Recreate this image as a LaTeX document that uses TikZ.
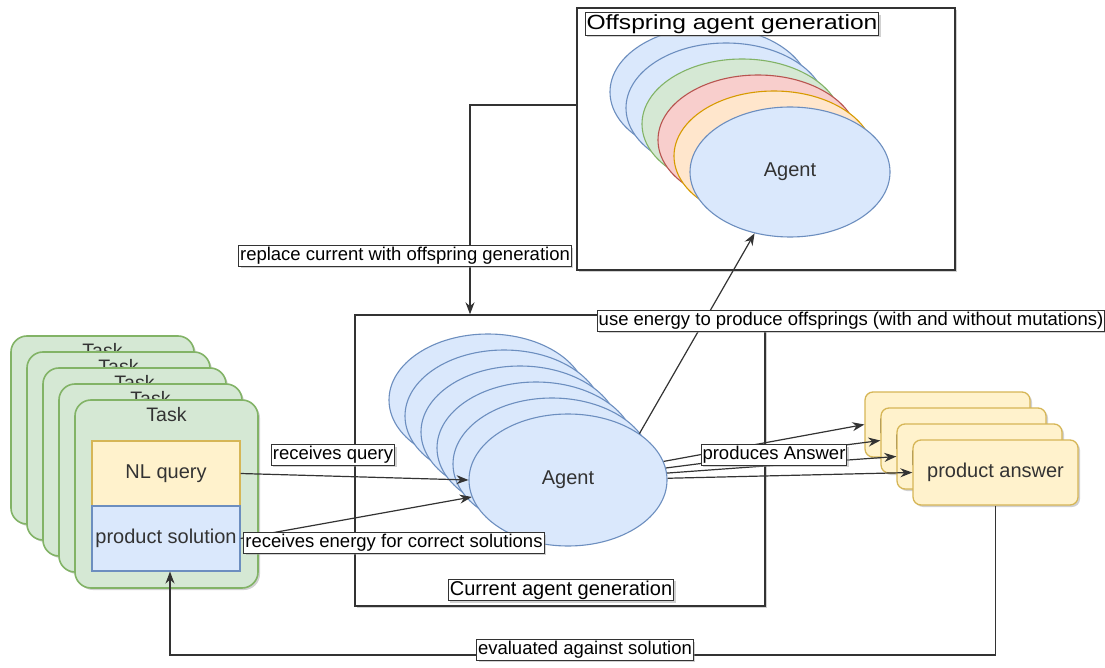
\documentclass[tikz,border=0pt]{standalone}
\usepackage{fontspec}
\setmainfont{Liberation Sans}
\newfontfamily\widesans[FakeStretch=1.2]{Liberation Sans}
\usetikzlibrary{shapes.geometric,arrows.meta,shadows}

\definecolor{blueF}{HTML}{DAE8FC}\definecolor{blueS}{HTML}{6C8EBF}
\definecolor{greenF}{HTML}{D5E8D4}\definecolor{greenS}{HTML}{82B366}
\definecolor{redF}{HTML}{F8CECC}\definecolor{redS}{HTML}{B85450}
\definecolor{orangeF}{HTML}{FFE6CC}\definecolor{orangeS}{HTML}{D79B00}
\definecolor{yellowF}{HTML}{FFF2CC}\definecolor{yellowS}{HTML}{D6B656}
\definecolor{ink}{HTML}{333333}

\tikzset{
  softshadow/.style={drop shadow={shadow xshift=2pt,shadow yshift=-2pt,fill=black!40,opacity=.45}},
  frame/.style={rectangle,draw=ink,line width=1.4pt,fill=white,softshadow},
  tag/.style={rectangle,draw=ink,line width=1pt,fill=white,inner xsep=1.5pt,inner ysep=1.5pt,
    font=\fontsize{18.5}{18.5}\selectfont,softshadow},
  bigtag/.style={tag,font=\fontsize{20}{20}\selectfont},
  agentell/.style={ellipse,line width=1.1pt,minimum width=198,minimum height=132,
    font=\fontsize{20}{20}\selectfont,text=ink},
  card/.style={rectangle,rounded corners=16pt,draw=greenS,fill=greenF,line width=1.6pt,
    minimum width=183,minimum height=188,softshadow},
  cardtitle/.style={font=\fontsize{19.5}{19.5}\selectfont,text=ink},
  field/.style={rectangle,line width=1.1pt,minimum width=148,minimum height=65,
    font=\fontsize{20}{20}\selectfont,text=ink},
  answer/.style={rectangle,rounded corners=8pt,draw=yellowS,fill=yellowF,line width=1.3pt,
    minimum width=165,minimum height=65,font=\fontsize{20}{20}\selectfont,text=ink,softshadow},
  arr/.style={draw=ink,line width=1.2pt,-{Stealth[length=12pt,width=9pt]}},
}

\begin{document}
\begin{tikzpicture}[x=1pt,y=-1pt]
\useasboundingbox[fill=white] (0,0) rectangle (1105,668);

% generation frames
\node[frame,minimum width=378,minimum height=262] (offbox) at (766,139) {};
\node[frame,minimum width=410,minimum height=291] (curbox) at (560,460.5) {};

% offspring agents, back to front
\foreach \i/\f/\s in {5/blueF/blueS,4/blueF/blueS,3/greenF/greenS,2/redF/redS,1/orangeF/orangeS}
  \node[agentell,fill=\f,draw=\s,minimum width=200,minimum height=130]
    (off\i) at (790-16*\i,172-16*\i) {};
\node[agentell,fill=blueF,draw=blueS,minimum width=200,minimum height=130] (agentoff) at (790,172) {Agent};

% current agents, back to front
\foreach \i in {5,...,1}
  \node[agentell,fill=blueF,draw=blueS] (cur\i) at (568-16*\i,480-16*\i) {};
\node[agentell,fill=blueF,draw=blueS] (agentcur) at (568,480) {Agent};

% task cards, back to front
\foreach \i in {4,...,1}{
  \node[card] (task\i) at (166.5-16*\i,494-16*\i) {};
  \node[cardtitle] (tasktitle\i) at (166.5-16*\i,415-16*\i) {Task};
}
\node[card] (task0) at (166.5,494) {};
\node[cardtitle] (tasktitle0) at (166.5,415) {Task};
\node[field,fill=yellowF,draw=yellowS] (nl) at (166,473.5) {NL query};
\node[field,fill=blueF,draw=blueS] (sol) at (166,538.5) {product solution};

% answers, back to front
\foreach \i in {3,...,1}
  \node[answer] (ans\i) at (995.5-16*\i,472.5-16*\i) {product answer};
\node[answer] (ans0) at (995.5,472.5) {product answer};

% connectors
\coordinate (r1) at (470,105);
\coordinate (e1) at (0,655);
\draw[arr] (offbox.west |- r1) -| (r1 |- curbox.north);
\draw[arr] (agentcur.33) -- (agentoff.240);
\draw[arr] (nl.east) -- (agentcur.west);
\draw[arr] (sol.east) -- (agentcur.190);
\draw[arr] (agentcur.11) -- (ans3.west);
\draw[arr] (agentcur.7) -- (ans2.west);
\draw[arr] (agentcur.4) -- (ans1.west);
\draw[arr] (agentcur.1) -- (ans0.west);
\draw[arr] (ans0.south) |- ([xshift=4pt]sol.south |- e1) -- ([xshift=4pt]sol.south);

% labels
\node[tag,font=\widesans\fontsize{20.5}{20.5}\selectfont] (offlabel) at (732,24) {Offspring agent generation};
\node[bigtag] (curlabel) at (561,590) {Current agent generation};
\node[tag] (lreplace) at (405,256) {replace current with offspring generation};
\node[tag] (luse) at (851,321) {use energy to produce offsprings (with and without mutations)};
\node[tag] (lquery) at (333,455) {receives query};
\node[tag] (lenergy) at (394,543) {receives energy for correct solutions};
\node[tag] (lanswer) at (774,455) {produces Answer};
\node[tag] (leval) at (585,650) {evaluated against solution};
\end{tikzpicture}
\end{document}
